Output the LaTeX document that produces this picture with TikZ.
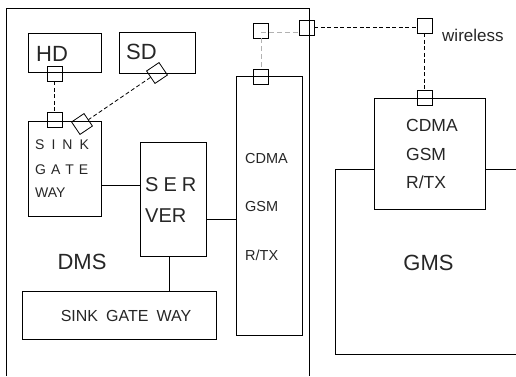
\documentclass[tikz,border=0pt]{standalone}
\usepackage{fontspec}
\setmainfont{Liberation Sans}
\begin{document}
\begin{tikzpicture}[x=1pt,y=-1pt,
  box/.style={draw,line width=0.8pt,inner sep=0pt,minimum width=#1},
  sq/.style={draw,line width=0.8pt,minimum size=15pt,inner sep=0pt},
  lbl/.style={inner sep=0pt,anchor=west,text=black!85},
  dsh/.style={line width=0.8pt,dash pattern=on 4pt off 2.5pt},
  gdsh/.style={line width=1pt,gray!60,dash pattern=on 5pt off 3pt},
  ln/.style={line width=0.8pt}]
\useasboundingbox (0,0) rectangle (516,376);
% outer DMS frame (open at bottom)
\draw[ln] (6,376) -- (6,8) -- (309,8) -- (309,376);
% outer GMS frame (open at right)
\draw[ln] (516,169) -- (335,169) -- (335,354) -- (516,354);
% boxes
\node[box=73pt,minimum height=39pt] (hd) at (64.5,52.5) {};
\node[box=76pt,minimum height=41pt] (sd) at (157,52.5) {};
\node[box=73pt,minimum height=95pt] (sink) at (64.5,168.5) {};
\node[box=66pt,minimum height=114pt] (server) at (173,199) {};
\node[box=66pt,minimum height=259pt] (cdma) at (269,205.5) {};
\node[box=194pt,minimum height=48pt] (sinkb) at (119,315) {};
\node[box=111pt,minimum height=111pt,fill=white] (gcdma) at (429.5,153.5) {};
% texts
\node[lbl,font=\fontsize{22}{22}\selectfont] (thd) at (36,54) {HD};
\node[lbl,font=\fontsize{22}{22}\selectfont] (tsd) at (126,52) {SD};
\node[lbl,font=\fontsize{14}{14}\selectfont] (t1) at (35,144.5) {S\hspace{7pt}I\hspace{7pt}N\hspace{7pt}K};
\node[lbl,font=\fontsize{14}{14}\selectfont] (t2) at (35,169.5) {G\hspace{5pt}A\hspace{5pt}T\hspace{5pt}E};
\node[lbl,font=\fontsize{14}{14}\selectfont] (t3) at (35,193) {WAY};
\node[lbl,font=\fontsize{20}{20}\selectfont] (t4) at (145,184.5) {S\hspace{5pt}E\hspace{5pt}R};
\node[lbl,font=\fontsize{20}{20}\selectfont] (t5) at (145,216) {VER};
\node[lbl,font=\fontsize{14.5}{14.5}\selectfont] (t6) at (245,158.5) {CDMA};
\node[lbl,font=\fontsize{14.5}{14.5}\selectfont] (t7) at (245,207) {GSM};
\node[lbl,font=\fontsize{14.5}{14.5}\selectfont] (t8) at (245,255.5) {R/TX};
\node[inner sep=0pt,text=black!85,font=\fontsize{22}{22}\selectfont] (tdms) at (82,262) {DMS};
\node[inner sep=0pt,text=black!85,font=\fontsize{16}{16}\selectfont] (tsb) at (126,316) {SINK\hspace{8pt}GATE\hspace{8pt}WAY};
\node[lbl,font=\fontsize{17.5}{17.5}\selectfont] (t9) at (406,125.5) {CDMA};
\node[lbl,font=\fontsize{17.5}{17.5}\selectfont] (t10) at (406,154.5) {GSM};
\node[lbl,font=\fontsize{17.5}{17.5}\selectfont] (t11) at (406,182.5) {R/TX};
\node[inner sep=0pt,text=black!85,font=\fontsize{22}{22}\selectfont] (tgms) at (428.5,263) {GMS};
\node[lbl,font=\fontsize{17}{17}\selectfont] (twl) at (442,35) {wireless};
% connector squares
\node[sq] (sq1) at (54.5,73.5) {};
\node[sq] (sq2) at (54.5,120) {};
\node[sq,rotate=34] (d1) at (157,73) {};
\node[sq,rotate=34] (d2) at (82,124) {};
\node[sq] (sq3) at (261,30.5) {};
\node[sq] (sq4) at (261,77) {};
\node[sq] (sq5) at (306.5,27.5) {};
\node[sq] (sq6) at (424.5,25.5) {};
\node[sq] (sq7) at (424.5,97.5) {};
% solid connectors
\draw[ln] ([yshift=-16.5pt]sink.east) coordinate (a1) -- (a1 -| server.west);
\draw[ln] ([yshift=-20pt]server.east) coordinate (a2) -- (a2 -| cdma.west);
\draw[ln] ([xshift=-4pt]server.south) coordinate (a3) -- (a3 |- sinkb.north);
% dashed connectors
\draw[dsh] (sq1.south) -- (sq2.north);
\draw[dsh] (d1.west) -- (d2.east);
\draw[gdsh] (sq3.south) -- (sq4.north);
\draw[gdsh] ([yshift=-1.5pt]sq3.center) coordinate (a4) -- (a4 -| sq5.west);
\draw[dsh] (sq5.east) coordinate (a5) -- (a5 -| sq6.west);
\draw[dsh] (sq6.south) -- (sq7.north);
\end{tikzpicture}
\end{document}
